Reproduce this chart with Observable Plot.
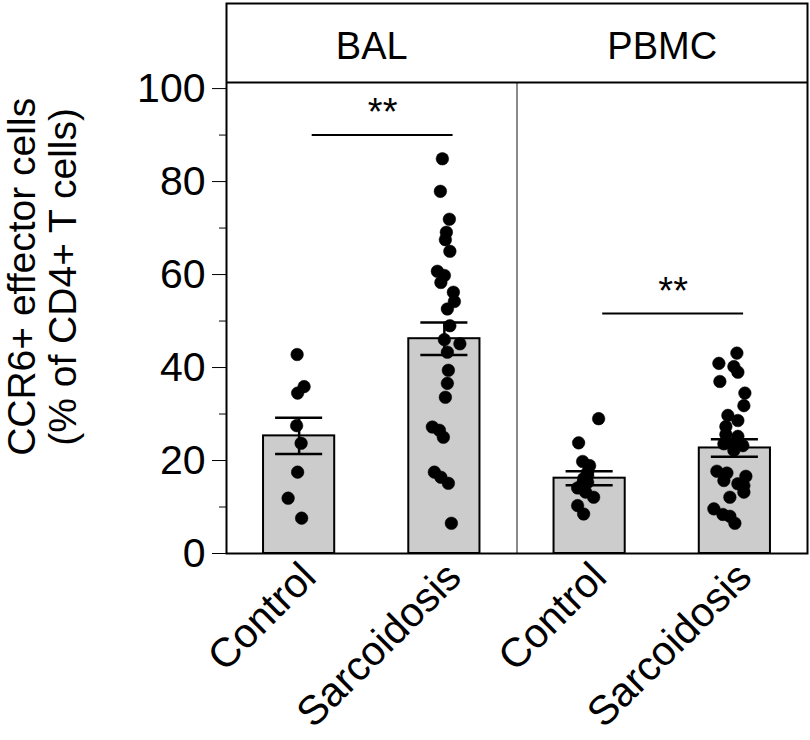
<!DOCTYPE html>
<html>
<head>
<meta charset="utf-8">
<script src="https://cdn.jsdelivr.net/npm/d3@7"></script>
<script src="https://cdn.jsdelivr.net/npm/@observablehq/plot@0.6"></script>
<style>
  body { margin: 0; background: #fff; }
  #chart svg { font-family: "Liberation Sans", Arial, Helvetica, sans-serif; }
</style>
</head>
<body>
<div id="chart"></div>
<script>
// ---- data ----
const tissues = ["BAL", "PBMC"];
const groups = ["Control", "Sarcoidosis"];

const balControl = [42.8, 35.9, 34.5, 27.5, 23.7, 17.5, 11.9, 7.6];
const balControlJitter = [-2, 5, -1.5, -2.5, 2, -1.5, -11, 2.5];

const balSarcoidosis = [84.9, 77.9, 71.9, 69.1, 67.5, 65.0, 60.7, 59.8, 58.3, 56.2, 54.2, 52.6, 49.0,
  46.0, 45.1, 43.3, 39.4, 36.6, 33.6, 27.2, 26.5, 25.0, 17.5, 16.4, 15.1, 6.5];
const balSarcoidosisJitter = [-2, -4, 5, 2, 1, 5.5, -7, 0, -3.5, 9, 10, 3, 5.5,
  0, 15.5, 3, 4, 3, 1, -12, -5, -1, -10, -3.5, 4, 7];

const pbmcControl = [29.0, 23.8, 19.8, 18.9, 17.5, 16.8, 16.1, 15.3, 15.0, 14.1, 13.2, 12.1, 10.3, 8.5];
const pbmcControlJitter = [9, -11, -7, 0, -2, -2, -6, -2, -7, -12, -4, 4, -12, -6];

const pbmcSarcoidosis = [43.1, 40.9, 40.2, 39.0, 37.0, 34.5, 31.8, 29.7, 28.6, 27.3, 25.6, 25.2, 23.6, 23.6,
  23.2, 22.2, 17.7, 17.3, 16.6, 15.7, 15.0, 14.6, 13.2, 12.1, 9.6, 8.4, 8.0, 6.5];
const pbmcSarcoidosisJitter = [2, -16, -1, 3, -15, 10, 9, -7, 3, -9, -9, 3, -11, -2,
  8, -1, -18, -8, 11, -11, 3, 9, 9, -5, -21, -12, -5, 0];

const barMeans = [25.3, 46.2, 16.2, 22.7];   // BAL Control, BAL Sarc, PBMC Control, PBMC Sarc
const barSEM = [3.9, 3.5, 1.5, 1.9];

const yTicks = [0, 20, 40, 60, 80, 100];
const yMinorTicks = [10, 30, 50, 70, 90];
const yTitle = ["CCR6+ effector cells", "(% of CD4+ T cells)"];
const sigLabel = "**";
const sigLevels = [90, 51.6];   // BAL, PBMC

// ---- build tables ----
const slotValues = [balControl, balSarcoidosis, pbmcControl, pbmcSarcoidosis];
const slotJitter = [balControlJitter, balSarcoidosisJitter, pbmcControlJitter, pbmcSarcoidosisJitter];
const slots = [];
tissues.forEach((t, ti) => groups.forEach((g, gi) => slots.push({tissue: t, group: g, i: ti * 2 + gi})));
slots.forEach((s, k) => { s.center = s.i + 0.5; s.mean = barMeans[k]; s.sem = barSEM[k]; });

const pxPerUnit = (810 - 226 - 3) / 4;
const points = [];
slots.forEach((s, k) => slotValues[k].forEach((v, j) =>
  points.push({x: s.center + slotJitter[k][j] / pxPerUnit, y: v})));

const yMax = 118.3, headerLine = 101.3;
const halfBar = 0.245, halfCap = 0.162;

const sig = tissues.map((t, ti) => ({x1: ti * 2 + 0.5 + 0.09, x2: ti * 2 + 1.5 + 0.06, y: sigLevels[ti]}));
const headers = tissues.map((t, ti) => ({x: ti * 2 + 1, y: (headerLine + yMax) / 2, label: t}));

const font = "Liberation Sans, Arial, Helvetica, sans-serif";
const FS = 38;

const chart = Plot.plot({
  width: 810,
  height: 740,
  marginLeft: 226,
  marginRight: 3,
  marginTop: 3,
  marginBottom: 187,
  style: {fontFamily: font, background: "#fff", color: "#000"},
  x: {domain: [0, 4], axis: null},
  y: {domain: [0, yMax], axis: null},
  marks: [
    // bars
    Plot.rectY(slots, {x1: d => d.center - halfBar, x2: d => d.center + halfBar, y1: 0, y2: "mean",
      fill: "#cccccc", stroke: "#000", strokeWidth: 2}),
    // error bars
    Plot.ruleX(slots, {x: "center", y1: d => d.mean - d.sem, y2: d => d.mean + d.sem, stroke: "#000", strokeWidth: 2.5}),
    Plot.ruleY(slots, {y: d => d.mean + d.sem, x1: d => d.center - halfCap, x2: d => d.center + halfCap, stroke: "#000", strokeWidth: 2.5}),
    Plot.ruleY(slots, {y: d => d.mean - d.sem, x1: d => d.center - halfCap, x2: d => d.center + halfCap, stroke: "#000", strokeWidth: 2.5}),
    // points
    Plot.dot(points, {x: "x", y: "y", r: 6.3, fill: "#000", stroke: "#000", strokeWidth: 0.5}),
    // panel divider
    Plot.ruleX([2], {y1: 0, y2: headerLine, stroke: "#8a8a8a", strokeWidth: 2}),
    // header line
    Plot.ruleY([headerLine], {stroke: "#000", strokeWidth: 2}),
    // header labels
    Plot.text(headers, {x: "x", y: "y", text: "label", fontSize: FS, dy: 4, fill: "#000"}),
    // significance
    Plot.ruleY(sig, {y: "y", x1: "x1", x2: "x2", stroke: "#000", strokeWidth: 2}),
    Plot.text(sig, {x: d => (d.x1 + d.x2) / 2, y: "y", text: () => sigLabel, fontSize: FS, lineAnchor: "bottom", dy: -10, fill: "#000"}),
    // y axis ticks
    Plot.axisY({ticks: yTicks, tickSize: 14, tickPadding: 7, fontSize: 41, label: null, tickFormat: d => d}),
    Plot.axisY({ticks: yMinorTicks, tickSize: 7, tickFormat: () => "", label: null}),
    // y title
    Plot.text([yTitle[0]], {frameAnchor: "left", y: [59.5], text: d => d, rotate: -90, textAnchor: "middle",
      dx: -204, fontSize: 39, fill: "#000"}),
    Plot.text([yTitle[1]], {frameAnchor: "left", y: [59.5], text: d => d, rotate: -90, textAnchor: "middle",
      dx: -163, fontSize: 39, fill: "#000"}),
    // x labels
    Plot.text(slots, {x: "center", frameAnchor: "bottom", text: "group", rotate: -45, textAnchor: "end",
      dx: 19, dy: 26, fontSize: 41, fill: "#000"}),
    // outer frame
    Plot.frame({stroke: "#000", strokeWidth: 2})
  ]
});
document.getElementById("chart").appendChild(chart);
</script>
</body>
</html>
